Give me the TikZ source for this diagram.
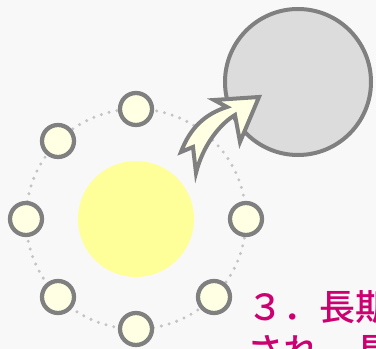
\documentclass[tikz,border=0pt]{standalone}
\usepackage{fontspec}
\newfontfamily\jpfont{Noto Sans CJK JP Medium}
\definecolor{bg}{HTML}{F8F8F8}
\definecolor{rimgray}{HTML}{808080}
\definecolor{dotgray}{HTML}{C4C4C4}
\definecolor{sunyellow}{HTML}{FFFF99}
\definecolor{cream}{HTML}{FFFFE4}
\definecolor{bigfill}{HTML}{DCDCDC}
\definecolor{pinktext}{HTML}{CC0070}
\tikzset{
  small/.style={circle, draw=rimgray, line width=3.2pt, fill=cream, minimum size=24pt, inner sep=0pt},
  sun/.style={circle, fill=sunyellow, minimum size=87pt, inner sep=0pt},
  target/.style={circle, draw=rimgray, line width=3pt, fill=bigfill, minimum size=109.5pt, inner sep=0pt},
  ring/.style={draw=dotgray, line width=2.5pt, line cap=round, dash pattern=on 0pt off 6pt},
  bigarrow/.style={draw=rimgray, line width=3pt, fill=cream, line join=miter, miter limit=10},
  caption/.style={font=\jpfont\fontsize{27pt}{32pt}\selectfont, text=pinktext, anchor=base west, inner sep=0pt}
}
\begin{document}
\begin{tikzpicture}[x=0.75pt,y=-0.75pt]
\useasboundingbox (0,0) rectangle (376,349);
\clip (0,0) rectangle (376,349);
\fill[bg] (0,0) rectangle (376,349);
\coordinate (c) at (136,219);
\draw[ring] (c) circle[radius=82.5pt];
\node[sun] (s) at (c) {};
\node[small] (p90) at (136,109) {};
\node[small] (p135) at (58,141) {};
\node[small] (p180) at (26,219) {};
\node[small] (p225) at (58,297) {};
\node[small] (p270) at (136,329) {};
\node[small] (p315) at (214,297) {};
\node[small] (p0) at (246,219) {};
\node[target] (t) at (298,82) {};
\draw[bigarrow] (181,152) .. controls (190,128) and (205,114) .. (227,107)
  -- (214,100) -- (259,97) -- (240,142) -- (235,115)
  .. controls (220,124) and (203,145) .. (196,173)
  -- (193,147) -- cycle;
\node[caption] (l1) at (247,321) {３．長期};
\node[caption] (l2) at (247,365) {され、長期};
\end{tikzpicture}
\end{document}
